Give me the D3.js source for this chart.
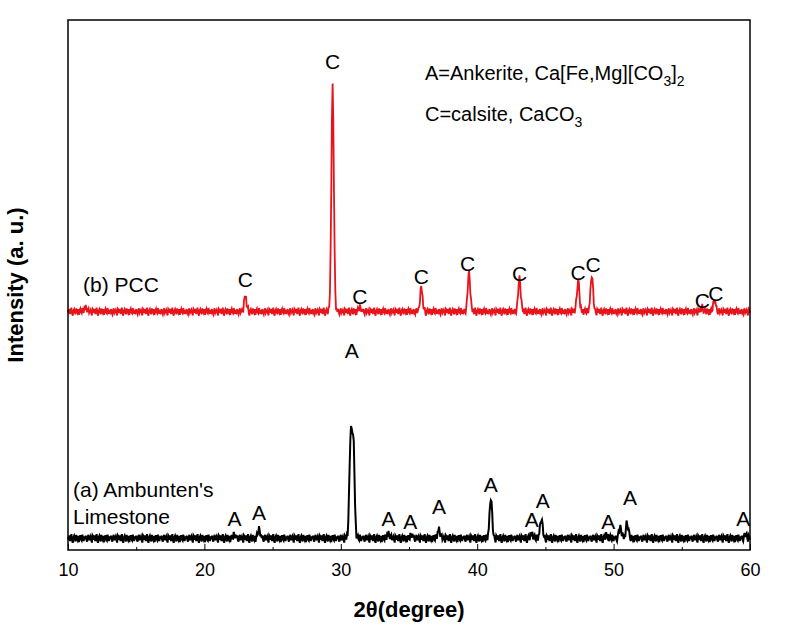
<!DOCTYPE html>
<html><head><meta charset="utf-8">
<script src="https://cdn.jsdelivr.net/npm/d3@7"></script>
<style>body{margin:0;background:#fff}text{font-family:"Liberation Sans",Arial,sans-serif}</style>
</head><body><svg id="c" width="800" height="634"></svg>
<script>
// Peak positions (2θ) and heights (arbitrary units)
const limestonePeaks=[[22.2,6],[24.0,16],[30.72,190],[30.92,180],[33.5,9],[35.2,6],[37.2,17],[41.0,78],[44.0,9],[44.7,38],[49.5,6],[50.5,22],[51.0,30],[59.7,7]];
const pccPeaks=[[11.3,8],[23.0,28],[29.4,425],[31.4,7],[35.9,45],[39.4,75],[43.1,65],[47.4,60],[48.4,70],[56.5,7],[57.4,22]];
const limestoneBase=22, pccBase=450;
// hand-typed baseline noise pattern (units)
const noise=[3,-2,5,-4,1,6,-3,-6,2,4,-1,-5,7,0,-3,4,-7,2,5,-2,-4,6,1,-6,3,-1,5,-3,-5,2,7,-4,0,3,-2,-6,4];
const labelsA=[[22.2,"A",46],[24.0,"A",56],[30.8,"A",363],[33.5,"A",46],[35.1,"A",40],[37.2,"A",68],[41.0,"A",110],[44.0,"A",44],[44.8,"A",80],[49.6,"A",40],[51.2,"A",84],[59.5,"A",45]];
const labelsC=[[23.0,"C",497],[29.4,"C",908],[31.4,"C",464],[35.9,"C",502],[39.3,"C",527],[43.1,"C",507],[47.4,"C",510],[48.5,"C",525],[56.5,"C",456],[57.5,"C",470]];
const xTicks=[10,20,30,40,50,60];

const svg=d3.select("#c");
const L=68,R=750,T=20,B=550;
const x=d3.scaleLinear().domain([10,60]).range([L,R]);
const y=d3.scaleLinear().domain([0,1000]).range([B,T]);
const xs=d3.range(10,60.001,0.05);
function series(peaks,base,amp){return xs.map((t,i)=>{let v=base+amp*noise[i%noise.length]*(0.6+0.4*Math.abs(noise[(i*7)%noise.length])/7);
 peaks.forEach(([p,h])=>{v+=h*Math.exp(-((t-p)**2)/(2*0.09*0.09));});return [t,v];});}
const line=d3.line().x(d=>x(d[0])).y(d=>y(d[1]));
svg.append("path").attr("d",line(series(limestonePeaks,limestoneBase,1.4))).attr("fill","none").attr("stroke","#000").attr("stroke-width",2);
svg.append("path").attr("d",line(series(pccPeaks,pccBase,1.3))).attr("fill","none").attr("stroke","#e8141c").attr("stroke-width",1.8);
svg.append("rect").attr("x",L).attr("y",T).attr("width",R-L).attr("height",B-T).attr("fill","none").attr("stroke","#000").attr("stroke-width",1.5);
const ax=svg.append("g").attr("transform",`translate(0,${B})`).call(d3.axisBottom(x).tickValues(xTicks).tickSize(6).tickFormat(d3.format("d")));
ax.select(".domain").remove();
ax.selectAll("text").attr("font-size",18).attr("dy","0.95em").style("font-family","Liberation Sans");
ax.selectAll("line").attr("y2",-6);
const ax2=svg.append("g").attr("transform",`translate(0,${B})`).call(d3.axisBottom(x).tickValues(d3.range(15,60,10)).tickSize(-3).tickFormat(""));
ax2.select(".domain").remove();
const lab=svg.append("g").attr("font-size",21).attr("text-anchor","middle");
labelsA.forEach(([p,t,v])=>lab.append("text").attr("x",x(p)).attr("y",y(v)).text(t));
labelsC.forEach(([p,t,v])=>lab.append("text").attr("x",x(p)).attr("y",y(v)).text(t));
svg.append("text").attr("x",83).attr("y",292).attr("font-size",21).text("(b) PCC");
svg.append("text").attr("x",73).attr("y",497).attr("font-size",21).text("(a) Ambunten's");
svg.append("text").attr("x",73).attr("y",524).attr("font-size",21).text("Limestone");
const l1=svg.append("text").attr("x",425).attr("y",80).attr("font-size",20);
l1.append("tspan").text("A=Ankerite, Ca[Fe,Mg][CO");l1.append("tspan").attr("font-size",14).attr("dy",6).text("3");l1.append("tspan").attr("dy",-6).text("]");l1.append("tspan").attr("font-size",14).attr("dy",6).text("2");
const l2=svg.append("text").attr("x",425).attr("y",121).attr("font-size",20);
l2.append("tspan").text("C=calsite, CaCO");l2.append("tspan").attr("font-size",14).attr("dy",6).text("3");
svg.append("text").attr("transform","translate(23,285) rotate(-90)").attr("text-anchor","middle").attr("font-size",22).attr("font-weight","bold").text("Intensity (a. u.)");
svg.append("text").attr("x",409).attr("y",617).attr("text-anchor","middle").attr("font-size",22).attr("font-weight","bold").text("2θ(degree)");
</script></body></html>
